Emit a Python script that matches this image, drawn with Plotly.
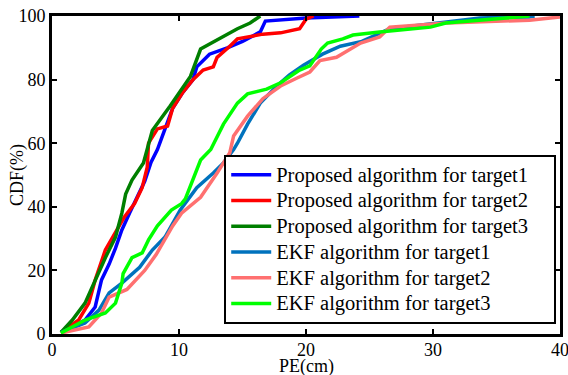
import plotly.graph_objects as go

names = ["Proposed algorithm for target1", "Proposed algorithm for target2",
         "Proposed algorithm for target3", "EKF algorithm for target1",
         "EKF algorithm for target2", "EKF algorithm for target3"]
colors = ["#0000FF", "#FF0000", "#007F00", "#0072BD", "#FF7070", "#00FF00"]

p1_x = [0.7, 1.6, 2.6, 3.4, 3.9, 4.5, 5.0, 5.5, 6.1, 6.7, 7.3, 7.8, 8.3, 8.9, 9.5, 10.3, 11.1, 11.4, 12.4, 13.8, 15.0, 16.4, 16.8, 20.0, 24.2]
p1_y = [0.5, 2.2, 4.4, 8.5, 17, 22, 27, 32.7, 38, 43, 48, 54, 58, 64.5, 71, 76, 80, 84, 88, 90, 92, 95, 98.4, 99.4, 100]

p2_x = [0.7, 2.1, 2.9, 3.4, 4.2, 5.0, 5.7, 6.5, 7.1, 7.5, 7.6, 8.3, 9.1, 9.5, 10.3, 11.1, 11.9, 12.7, 13.0, 14.0, 14.6, 16.6, 18.0, 19.5, 20.0, 20.6]
p2_y = [0.5, 4.4, 9.7, 17, 26.4, 31.7, 36.8, 41, 46, 52.5, 60, 64.5, 65.4, 71, 76, 80, 83, 84, 87, 90.5, 92.8, 94.3, 94.7, 96, 99, 100]

p3_x = [0.7, 1.6, 2.6, 3.4, 4.2, 5.0, 5.5, 5.8, 6.3, 7.2, 7.5, 7.9, 9.3, 10.9, 11.7, 13.2, 14.6, 15.6, 16.4]
p3_y = [0.5, 4.4, 9.7, 17, 24, 30.5, 38, 44, 48.4, 53.8, 58, 64, 71.7, 81, 89.6, 93, 96, 97.8, 100]

e1_x = [0.7, 2.6, 3.7, 4.5, 5.5, 6.9, 7.9, 8.9, 10.1, 11.4, 12.7, 13.5, 14.3, 14.6, 15.4, 16.4, 17.7, 18.7, 19.8, 21.3, 22.7, 24.4, 26.6, 30.6, 33.7, 37.6, 38.0]
e1_y = [0.5, 3.5, 7.5, 12.9, 16, 21, 26.4, 30.5, 39, 46, 50.6, 53.8, 58, 60, 66, 72.6, 78, 81.5, 84.5, 88, 90.5, 92, 96, 98, 99.4, 99.7, 100]

e2_x = [0.7, 2.9, 3.9, 4.5, 5.9, 7.3, 8.2, 8.9, 9.5, 10.2, 11.7, 13.0, 14.0, 14.3, 15.4, 16.6, 18.0, 19.3, 20.3, 21.1, 22.4, 24.3, 25.8, 26.6, 31.1, 37.6, 40.0]
e2_y = [0.3, 2.2, 6.6, 11.6, 14, 20, 25, 30, 34, 38, 43, 50.6, 57, 62.3, 68.5, 74, 78, 80.5, 82.4, 86, 87, 91.5, 93.4, 96.5, 97.8, 98.7, 99.7]

e3_x = [0.7, 2.6, 4.2, 5.0, 5.5, 5.6, 6.3, 7.1, 7.6, 8.3, 9.4, 10.2, 10.5, 11.1, 11.7, 12.5, 13.5, 14.6, 15.4, 16.9, 18.0, 19.5, 20.3, 21.2, 21.7, 22.9, 23.7, 25.8, 29.8, 31.0, 37.4, 37.6]
e3_y = [0.3, 4.4, 6.6, 9.7, 16, 19, 24, 25.5, 29.6, 34, 39, 41, 42.5, 48.4, 54.7, 58, 66, 72.6, 75.5, 77, 79, 83, 84.3, 89.6, 91.5, 92.8, 94, 95, 96.5, 97.8, 99.7, 100]

xs = [p1_x, p2_x, p3_x, e1_x, e2_x, e3_x]
ys = [p1_y, p2_y, p3_y, e1_y, e2_y, e3_y]

x_ticks = [0, 10, 20, 30, 40]
y_ticks = [0, 20, 40, 60, 80, 100]

FONT = "Liberation Serif"
PAD = "\u00a0" * 4

fig = go.Figure()
for n, c, x, y in zip(names, colors, xs, ys):
    fig.add_trace(go.Scatter(x=x, y=y, mode="lines",
                             name='<span style="font-size:20.5px">' + n + PAD + '</span>',
                             line=dict(color=c, width=3.5)))

axis_common = dict(showgrid=False, zeroline=False, showline=True, linecolor="black",
                   linewidth=3, mirror="ticks", ticks="inside", ticklen=5, tickwidth=2,
                   tickcolor="black", automargin=False, ticklabeloverflow="allow",
                   tickfont=dict(family=FONT, size=18, color="black"))

fig.update_xaxes(range=[0, 40], tickvals=x_ticks, ticklabelstandoff=-3, **axis_common)
fig.update_yaxes(range=[0, 100], tickvals=y_ticks, ticklabelstandoff=0, **axis_common)

fig.add_annotation(text="PE(cm)", xref="paper", yref="paper", x=0.5, y=-0.103,
                   xanchor="center", yanchor="middle", showarrow=False,
                   font=dict(family=FONT, size=18, color="black"))
fig.add_annotation(text="CDF(%)", xref="paper", yref="paper", x=-0.069, y=0.5,
                   xanchor="center", yanchor="middle", showarrow=False, textangle=-90,
                   font=dict(family=FONT, size=18, color="black"))

fig.update_layout(
    width=568, height=375,
    margin=dict(l=52, r=8, t=16, b=41),
    paper_bgcolor="white", plot_bgcolor="white",
    showlegend=True,
    legend=dict(x=0.339, y=0.563, xanchor="left", yanchor="top",
                bgcolor="white", bordercolor="black", borderwidth=2,
                font=dict(family=FONT, size=17.5, color="black"),
                tracegroupgap=0, itemwidth=40),
)

fig.write_html("out.html", config={"displayModeBar": False},
               post_script="document.body.style.margin='0px';")
